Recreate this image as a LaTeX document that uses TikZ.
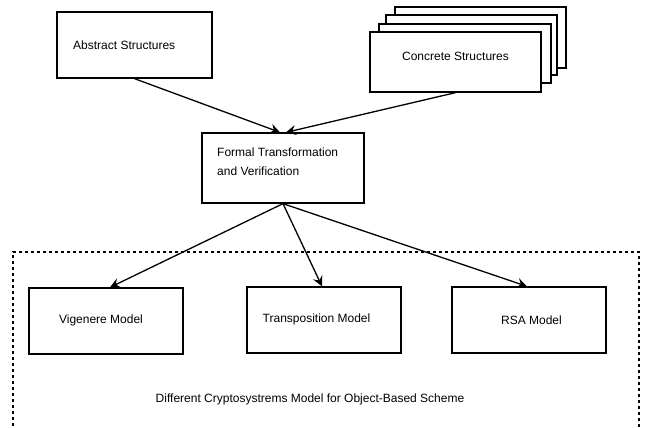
\documentclass[tikz,border=0pt]{standalone}
\usepackage{fontspec}
\setmainfont{Liberation Sans}
\usetikzlibrary{arrows.meta,calc}
\begin{document}
\begin{tikzpicture}[x=1pt,y=-1pt,
  box/.style={draw=black,line width=1.3pt,fill=white,inner sep=0pt},
  lbl/.style={font=\fontsize{12}{19}\selectfont,inner sep=0pt,anchor=west,align=left},
  link/.style={line width=1.3pt,-{Stealth[length=10pt,width=10pt,inset=3.5pt]}},
  frame/.style={line width=1.3pt,dash pattern=on 3pt off 3pt}]
\useasboundingbox (0,0) rectangle (645,428);

% top row
\node[box,minimum width=155pt,minimum height=66pt] (abs) at (134.5,45) {};
\node[lbl] (absT) at (73,45) {Abstract Structures};

\node[box,minimum width=171pt,minimum height=61pt] (con3) at (480.5,37.5) {};
\node[box,minimum width=171pt,minimum height=60pt] (con2) at (471.5,45) {};
\node[box,minimum width=172pt,minimum height=59pt] (con1) at (465,53.5) {};
\node[box,minimum width=171pt,minimum height=60pt] (con) at (455.5,62) {};
\node[lbl,anchor=center] (conT) at (455.5,56) {Concrete Structures};

% middle
\node[box,minimum width=162pt,minimum height=70pt] (fv) at (283,168) {};
\node[lbl,anchor=north west] (fvT) at (217,148) {Formal Transformation\\and Verification};

% model group frame
\draw[frame] (13,432) -- (13,252) -- (639,252) -- (639,432);

\node[box,minimum width=154pt,minimum height=66pt] (vig) at (106,321) {};
\node[lbl,anchor=center] (vigT) at (101,320) {Vigenere Model};
\node[box,minimum width=154pt,minimum height=66pt] (tra) at (324,320) {};
\node[lbl,anchor=center] (traT) at (316.5,319) {Transposition Model};
\node[box,minimum width=154pt,minimum height=66pt] (rsa) at (529,320) {};
\node[lbl,anchor=center] (rsaT) at (531.5,320) {RSA Model};

\node[lbl,anchor=center] (cap) at (310,399) {Different Cryptosystrems Model for Object-Based Scheme};

% connectors
\draw[link] (abs.south) -- ($(fv.north)+(-3,0)$);
\draw[link] (con.south) -- ($(fv.north)+(3,0)$);
\draw[link] (fv.south) -- ($(vig.north)+(4,0)$);
\draw[link] (fv.south) -- ($(tra.north)+(-2,0)$);
\draw[link] (fv.south) -- ($(rsa.north)+(-2,0)$);
\end{tikzpicture}
\end{document}
